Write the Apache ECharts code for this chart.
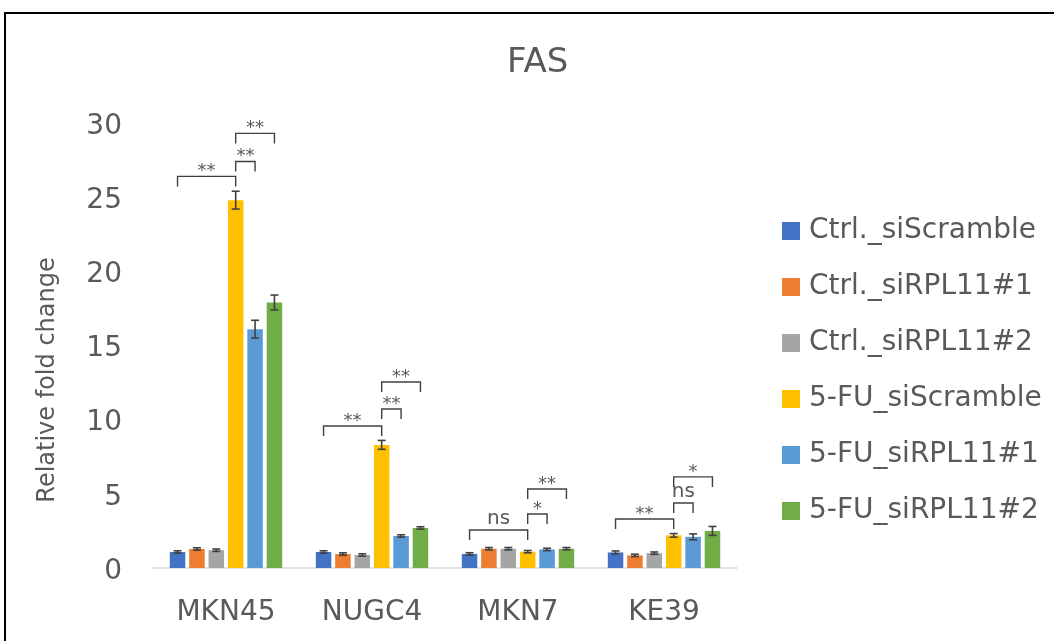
<!DOCTYPE html>
<html><head><meta charset="utf-8">
<script src="https://cdn.jsdelivr.net/npm/echarts@6/dist/echarts.min.js"></script>
<style>html,body{margin:0;padding:0;background:#fff}#c{width:1054px;height:641px}</style>
</head><body><div id="c"></div>
<script>
const categories = ['MKN45', 'NUGC4', 'MKN7', 'KE39'];
const seriesNames = ['Ctrl._siScramble', 'Ctrl._siRPL11#1', 'Ctrl._siRPL11#2', '5-FU_siScramble', '5-FU_siRPL11#1', '5-FU_siRPL11#2'];
const ctrlScramble = [1.08, 1.08, 0.95, 1.05];
const ctrlRPL1 = [1.28, 0.94, 1.30, 0.85];
const ctrlRPL2 = [1.20, 0.88, 1.30, 1.00];
const fuScramble = [24.8, 8.3, 1.10, 2.20];
const fuRPL1 = [16.1, 2.16, 1.25, 2.10];
const fuRPL2 = [17.9, 2.70, 1.30, 2.50];
const errCtrlScramble = [0.08, 0.08, 0.08, 0.1];
const errCtrlRPL1 = [0.08, 0.08, 0.08, 0.08];
const errCtrlRPL2 = [0.08, 0.08, 0.08, 0.08];
const errFuScramble = [0.6, 0.3, 0.08, 0.12];
const errFuRPL1 = [0.6, 0.08, 0.08, 0.2];
const errFuRPL2 = [0.5, 0.08, 0.08, 0.3];
const yTicks = [0, 5, 10, 15, 20, 25, 30];
const yAxisTitle = 'Relative fold change';
// significance brackets: [category index, from bar, to bar, bracket height, label]
const brackets = [
  [0, 0, 3, 26.4, '**'], [0, 3, 4, 27.4, '**'], [0, 3, 5, 29.3, '**'],
  [1, 0, 3, 9.57, '**'], [1, 3, 4, 10.72, '**'], [1, 3, 5, 12.54, '**'],
  [2, 0, 3, 2.56, 'ns'], [2, 3, 4, 3.64, '*'], [2, 3, 5, 5.33, '**'],
  [3, 0, 3, 3.30, '**'], [3, 3, 4, 4.38, 'ns'], [3, 3, 5, 6.14, '*']
];

const values = [ctrlScramble, ctrlRPL1, ctrlRPL2, fuScramble, fuRPL1, fuRPL2];
const errs = [errCtrlScramble, errCtrlRPL1, errCtrlRPL2, errFuScramble, errFuRPL1, errFuRPL2];
const colors = ['#4472C4', '#ED7D31', '#A5A5A5', '#FFC000', '#5B9BD5', '#70AD47'];
const FONT = '"DejaVu Sans"';
const CAT_GAP = 0.23, BAR_GAP = 0.25, N = 6;

function barX(api, cat, bar) {
  const band = api.size([1, 0])[0];
  const bw = band * (1 - CAT_GAP) / (N + (N - 1) * BAR_GAP);
  const step = bw * (1 + BAR_GAP);
  return api.coord([cat, 0])[0] + (bar - (N - 1) / 2) * step;
}

const errData = [];
values.forEach((arr, s) => arr.forEach((v, c) => errData.push([c, s, v, errs[s][c]])));

const series = values.map((arr, i) => ({
  name: seriesNames[i], type: 'bar', data: arr,
  barGap: (BAR_GAP * 100) + '%', barCategoryGap: (CAT_GAP * 100) + '%',
  itemStyle: { color: colors[i] }
}));
series.push({
  type: 'custom', name: 'err', data: errData, z: 10,
  renderItem: function (params, api) {
    const c = api.value(0), s = api.value(1), v = api.value(2), e = api.value(3);
    const x = barX(api, c, s);
    const yTop = api.coord([c, v + e])[1], yBot = api.coord([c, v - e])[1];
    const w = 4;
    const st = { stroke: '#404040', lineWidth: 1.6 };
    return { type: 'group', children: [
      { type: 'line', shape: { x1: x, y1: yTop, x2: x, y2: yBot }, style: st },
      { type: 'line', shape: { x1: x - w, y1: yTop, x2: x + w, y2: yTop }, style: st },
      { type: 'line', shape: { x1: x - w, y1: yBot, x2: x + w, y2: yBot }, style: st }
    ]};
  }
});
series.push({
  type: 'custom', name: 'sig', data: brackets, z: 10,
  renderItem: function (params, api) {
    const b = brackets[params.dataIndex];
    const x1 = barX(api, b[0], b[1]), x2 = barX(api, b[0], b[2]);
    const y = api.coord([b[0], b[3]])[1];
    const leg = 10;
    const st = { stroke: '#404040', lineWidth: 1.4, fill: null };
    const isNs = b[4] === 'ns';
    return { type: 'group', children: [
      { type: 'polyline', shape: { points: [[x1, y + leg], [x1, y], [x2, y], [x2, y + leg]] }, style: st },
      { type: 'text', x: (x1 + x2) / 2, y: isNs ? y - 1 : y + 4, style: {
        text: b[4], fill: '#595959', font: (isNs ? '20px ' : '18px ') + FONT,
        textAlign: 'center', textVerticalAlign: 'bottom' } }
    ]};
  }
});

const chart = echarts.init(document.getElementById('c'));
chart.setOption({
  animation: false,
  textStyle: { fontFamily: FONT },
  title: { text: 'FAS', left: 502, top: 41,
    textStyle: { fontSize: 34, fontWeight: 'normal', color: '#595959', fontFamily: FONT } },
  graphic: [
    { type: 'rect', shape: { x: 5, y: 13, width: 1200, height: 800 },
      style: { fill: null, stroke: '#000', lineWidth: 2 }, silent: true },
    { type: 'text', x: 48, y: 380, rotation: Math.PI / 2, silent: true,
      style: { text: yAxisTitle, font: '24px ' + FONT, fill: '#595959',
        textAlign: 'center', textVerticalAlign: 'middle' } }
  ],
  legend: {
    data: seriesNames, orient: 'vertical', left: 777, top: 212, itemGap: 28,
    itemWidth: 18, itemHeight: 18, icon: 'rect',
    textStyle: { fontSize: 28, color: '#595959', fontFamily: FONT, padding: [0, 0, 0, 4] }
  },
  grid: { left: 153, right: 317, top: 123, bottom: 73 },
  xAxis: { type: 'category', data: categories,
    axisLine: { lineStyle: { color: '#D9D9D9', width: 1.5 } }, axisTick: { show: false },
    axisLabel: { fontSize: 28, color: '#595959', margin: 31, fontFamily: FONT } },
  yAxis: { type: 'value', min: 0, max: 30, interval: 5,
    axisLine: { show: false }, axisTick: { show: false }, splitLine: { show: false },
    axisLabel: { color: '#595959', margin: 31, fontFamily: FONT,
      rich: { t: { fontSize: 28, color: '#595959', fontFamily: FONT, padding: [7, 0, 0, 0] } },
      formatter: v => yTicks.includes(v) ? '{t|' + v + '}' : '' } },
  series: series
});
</script></body></html>
